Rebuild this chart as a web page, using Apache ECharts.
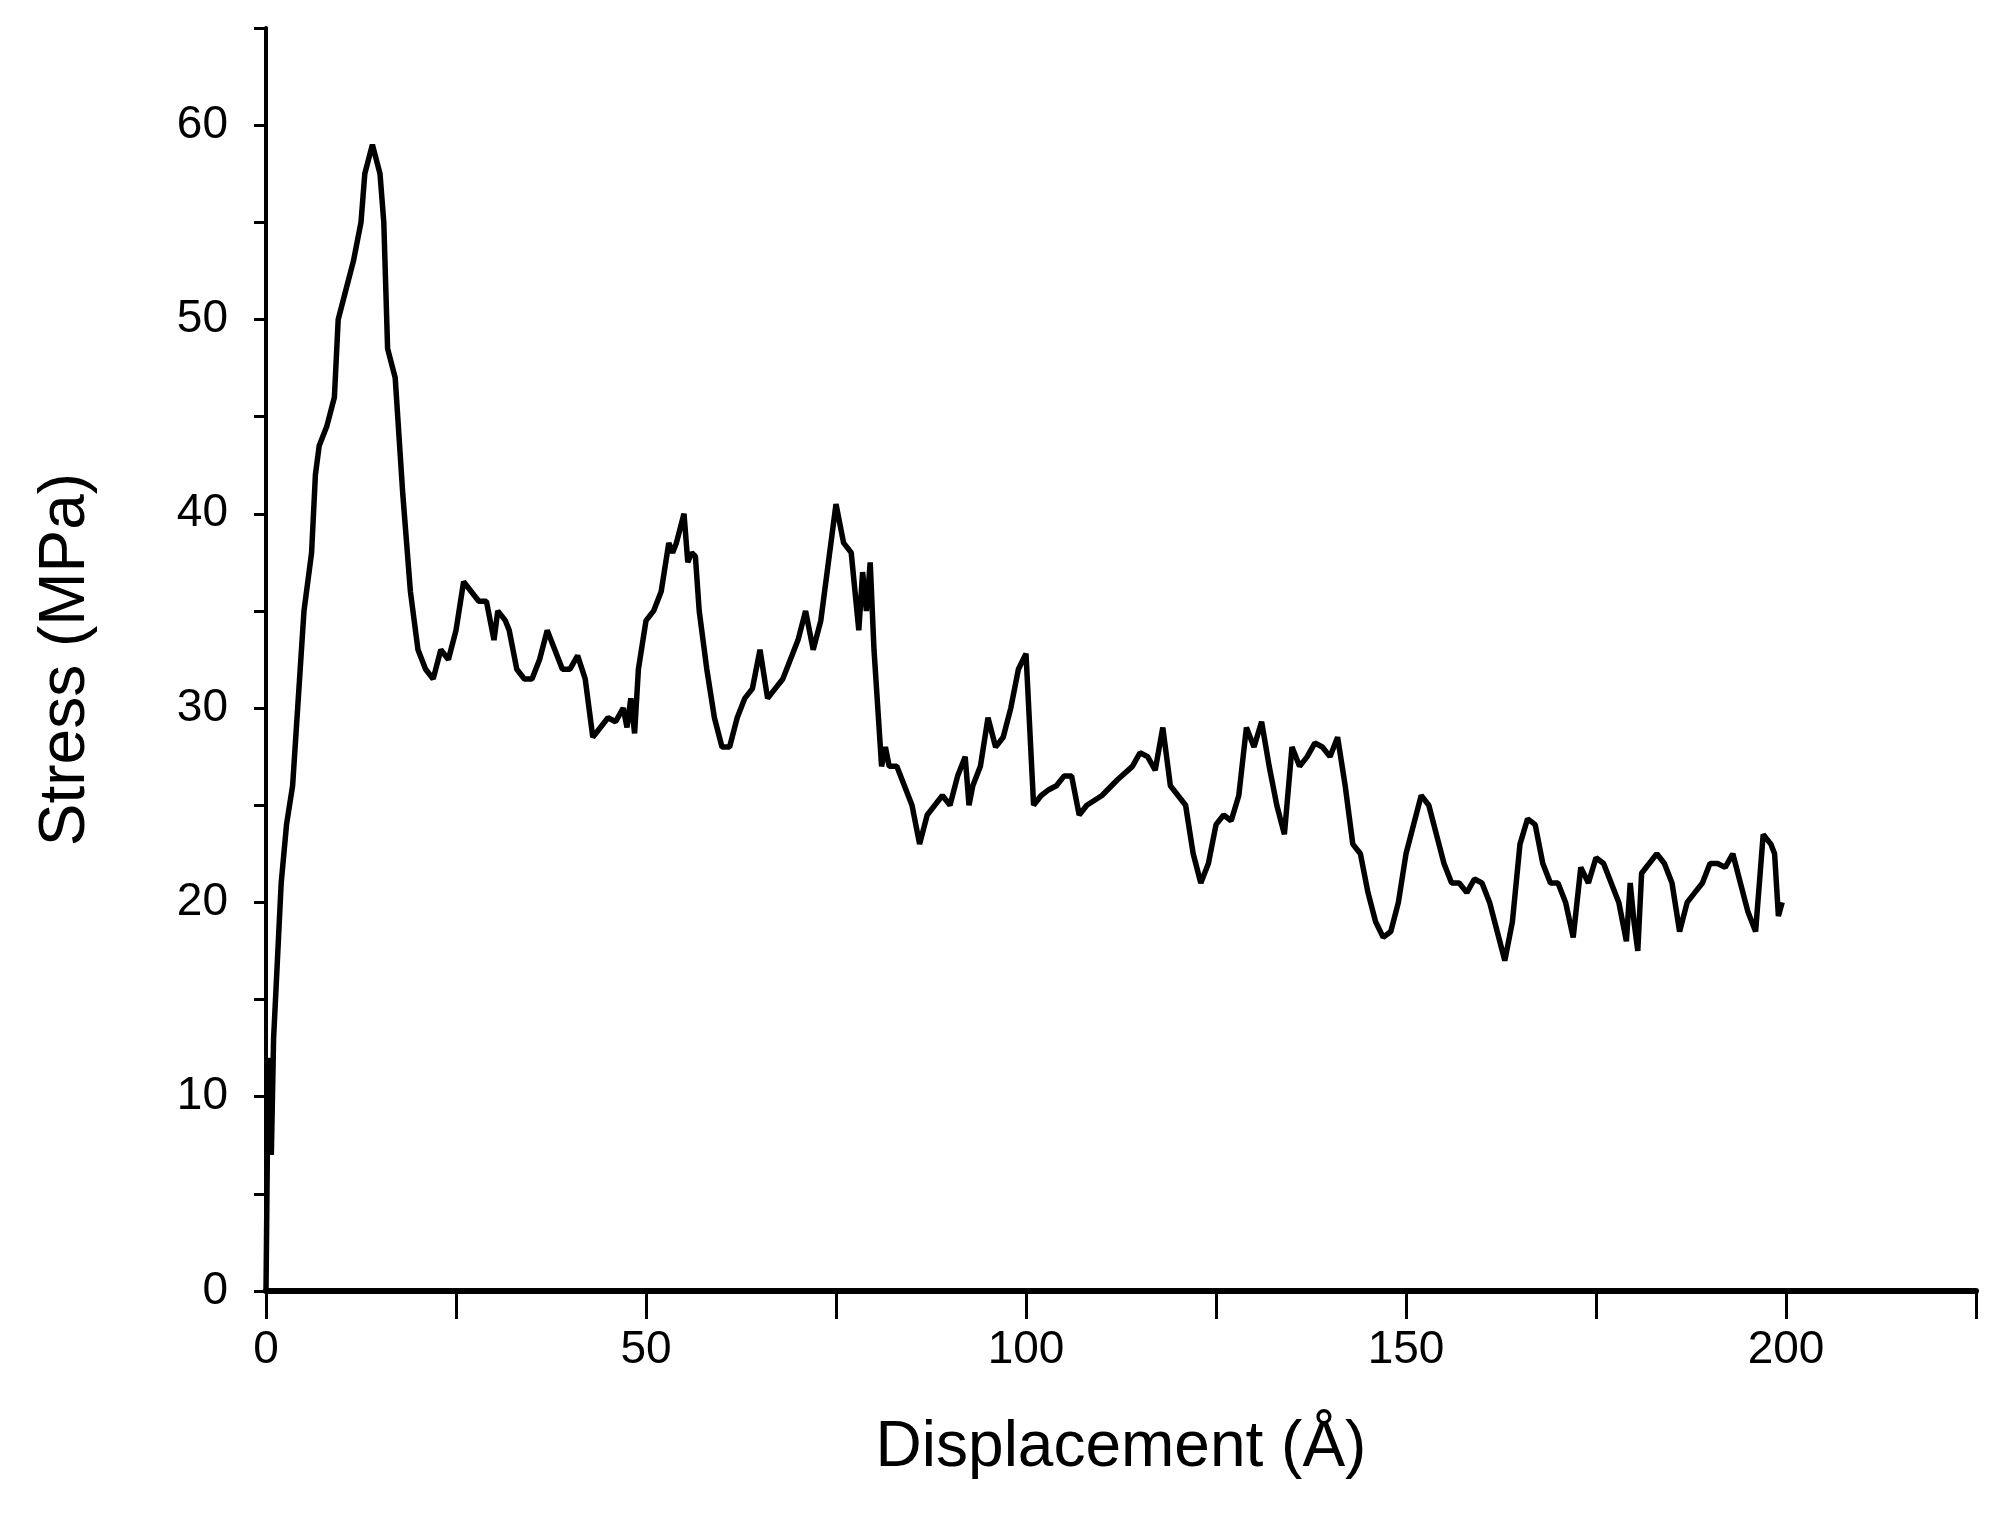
<!DOCTYPE html>
<html>
<head>
<meta charset="utf-8">
<script src="https://cdn.jsdelivr.net/npm/echarts@6/dist/echarts.min.js"></script>
<style>html,body{margin:0;padding:0;background:#fff}#main{width:2002px;height:1516px}</style>
</head>
<body>
<div id="main"></div>
<script>
// displacement (Å) and stress (MPa)
var displacement = [0,0.3,0.7,1,1.5,2,2.7,3.5,4,4.5,5,6,6.5,7,8,9,9.5,10.5,11.5,12.5,13,14,15,15.5,16,17,18,19,20,21,22,23,24,25,26,27,28,29,30,30.5,31.5,32,33,34,35,36,37,38,39,40,41,42,43,44,45,46,47,47.5,48,48.5,49,50,51,52,53,53.5,54,55,55.5,56,56.5,57,58,59,60,61,62,63,64,65,66,67,68,69,70,71,72,73,74,75,76,77,78,78.5,79,79.5,80,81,81.5,82,83,84,85,86,87,88,89,90,91,92,92.5,93,94,95,96,97,98,99,100,101,102,103,104,105,106,107,108,110,112,114,115,116,117,118,119,120,121,122,123,124,125,126,127,128,129,130,131,132,133,134,135,136,137,138,139,140,141,142,143,144,145,146,147,148,149,150,151,152,153,154,155,156,157,158,159,160,161,162,163,164,165,166,167,168,169,170,171,172,173,174,175,176,177,178,179,179.5,180,180.5,181,182,183,184,185,186,187,188,189,190,191,192,193,194,195,196,197,198,198.5,199,199.5];
var stress = [0,12,7,13,17,21,24,26,29,32,35,38,42,43.5,44.5,46,50,51.5,53,55,57.5,59,57.5,55,48.5,47,41,36,33,32,31.5,33,32.5,34,36.5,36,35.5,35.5,33.5,35,34.5,34,32,31.5,31.5,32.5,34,33,32,32,32.7,31.5,28.5,29,29.5,29.3,30,29,30.5,28.7,32,34.5,35,36,38.5,38,38.5,40,37.5,38,37.8,35,32,29.5,28,28,29.5,30.5,31,33,30.5,31,31.5,32.5,33.5,35,33,34.5,37.5,40.5,38.5,38,34,37,35,37.5,33,27,28,27,27,26,25,23,24.5,25,25.5,25,26.5,27.5,25,26,27,29.5,28,28.5,30,32,32.8,25,25.5,25.8,26,26.5,26.5,24.5,25,25.5,26.3,27,27.7,27.5,26.8,29,26,25.5,25,22.5,21,22,24,24.5,24.2,25.5,29,28,29.3,27,25,23.5,28,27,27.5,28.2,28,27.5,28.5,26,23,22.5,20.5,19,18.2,18.5,20,22.5,24,25.5,25,23.5,22,21,21,20.5,21.2,21,20,18.5,17,19,23,24.3,24,22,21,21,20,18.2,21.8,21,22.3,22,21,20,18,21,19,17.5,21.5,22,22.5,22,21,18.5,20,20.5,21,22,22,21.8,22.5,21,19.5,18.5,23.5,23,22.5,19.3,20];
var xTicks = [0,50,100,150,200];
var yTicks = [0,10,20,30,40,50,60];

var pairs = displacement.map(function (x, i) { return [x, stress[i]]; });
var font = 'Liberation Sans';
var chart = echarts.init(document.getElementById('main'));
chart.setOption({
  animation: false,
  grid: { left: 266, right: 26, top: 28, bottom: 225 },
  xAxis: {
    type: 'value', min: 0, max: 225, interval: 25,
    name: 'Displacement (Å)', nameLocation: 'middle', nameGap: 125,
    nameTextStyle: { fontFamily: font, fontSize: 64, color: '#000' },
    axisLine: { lineStyle: { color: '#000', width: 6 } },
    axisTick: { length: 28, lineStyle: { color: '#000', width: 3 } },
    axisLabel: {
      fontFamily: font, fontSize: 46, color: '#000', margin: 36,
      formatter: function (v) { return xTicks.indexOf(v) >= 0 ? String(v) : ''; }
    },
    splitLine: { show: false }
  },
  yAxis: {
    type: 'value', min: 0, max: 65, interval: 5,
    name: 'Stress (MPa)', nameLocation: 'middle', nameGap: 168,
    nameTextStyle: { fontFamily: font, fontSize: 64, color: '#000' },
    axisLine: { show: true, lineStyle: { color: '#000', width: 4 } },
    axisTick: { show: true, length: 12, lineStyle: { color: '#000', width: 3 } },
    axisLabel: {
      fontFamily: font, fontSize: 46, color: '#000', margin: 38,
      formatter: function (v) { return yTicks.indexOf(v) >= 0 ? String(v) : ''; }
    },
    splitLine: { show: false }
  },
  series: [{
    type: 'line', data: pairs, showSymbol: false,
    lineStyle: { color: '#000', width: 5.5 }
  }]
});
</script>
</body>
</html>
